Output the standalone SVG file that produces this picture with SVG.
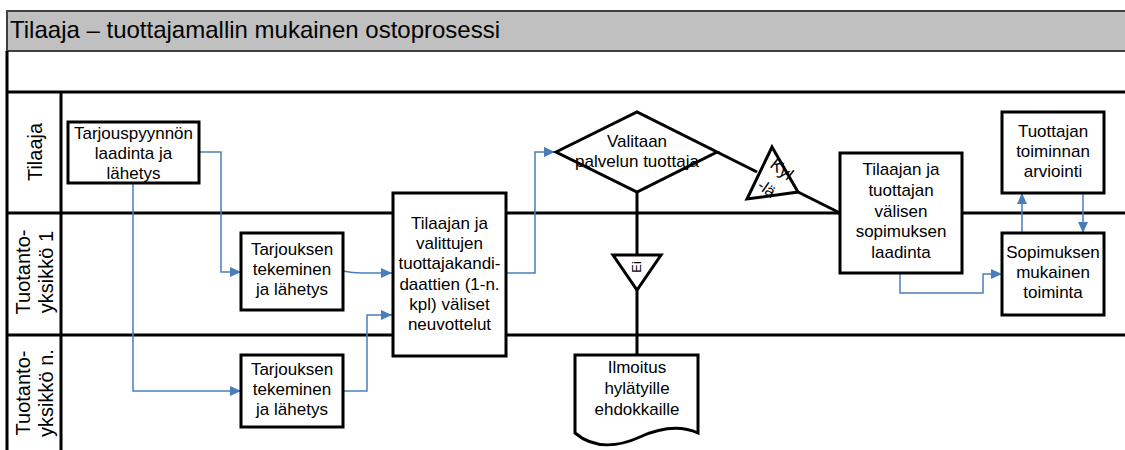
<svg xmlns="http://www.w3.org/2000/svg" width="1125" height="450" viewBox="0 0 1125 450">
<style>
text{font-family:"Liberation Sans",Arial,sans-serif;fill:#000}
.t{font-size:17px;text-anchor:middle}
.lane{font-size:20px;text-anchor:middle}
.box{fill:#fff;stroke:#000;stroke-width:3}
.ln{stroke:#000;stroke-width:3;fill:none}
.bl{stroke:#4a7ebb;stroke-width:1.5;fill:none}
.blk{stroke:#000;stroke-width:3;fill:none}
</style>
<defs>
<marker id="ah" markerUnits="userSpaceOnUse" markerWidth="11" markerHeight="10" refX="11" refY="5" orient="auto">
<path d="M0,0 L11,5 L0,10 z" fill="#4a7ebb"/>
</marker>
</defs>
<rect width="1125" height="450" fill="#fff"/>
<g id="frame">
<rect x="7" y="11" width="1125" height="40" fill="#c0c0c0" stroke="#404040" stroke-width="2"/>
<text x="10" y="38" style="font-size:24px">Tilaaja – tuottajamallin mukainen ostoprosessi</text>
<path class="ln" d="M7,51 V450 M61,92 V450 M6,92 H1125 M7,213 H1125 M7,335 H1125"/>
<text class="lane" transform="rotate(-90 34 152)" x="34" y="160">Tilaaja</text>
<text class="lane" transform="rotate(-90 34 272)" x="34" y="268">Tuotanto-</text>
<text class="lane" transform="rotate(-90 34 272)" x="34" y="291">yksikkö 1</text>
<text class="lane" transform="rotate(-90 34 393)" x="34" y="389">Tuotanto-</text>
<text class="lane" transform="rotate(-90 34 393)" x="34" y="412">yksikkö n.</text>
</g>
<g id="connectors">
<path class="bl" marker-end="url(#ah)" d="M199,152 H221 V272 H241"/>
<path class="bl" marker-end="url(#ah)" d="M133,183 V391 H241"/>
<path class="bl" marker-end="url(#ah)" d="M343,271 Q352,273 362,273 H392"/>
<path class="bl" marker-end="url(#ah)" d="M343,391 H367 V315 H392"/>
<path class="bl" marker-end="url(#ah)" d="M506,273 H535 V152 H555"/>
<path class="bl" marker-end="url(#ah)" d="M900,273 V293 H983 V274 H1002"/>
<path class="bl" marker-end="url(#ah)" d="M1022,233 V193"/>
<path class="bl" marker-end="url(#ah)" d="M1083,193 V233"/>
<path class="blk" d="M637,192 V355"/>
<path class="blk" d="M717,152 L757,172"/>
<path class="blk" d="M798,192 L840,213"/>
</g>
<g id="n1">
<rect class="box" x="68" y="122" width="131" height="61"/>
<text class="t" x="133.5" y="139">Tarjouspyynnön</text>
<text class="t" x="133.5" y="159">laadinta ja</text>
<text class="t" x="133.5" y="179">lähetys</text>
</g>
<g id="n2">
<rect class="box" x="241" y="233" width="102" height="77"/>
<text class="t" x="292" y="255">Tarjouksen</text>
<text class="t" x="292" y="275">tekeminen</text>
<text class="t" x="292" y="295">ja lähetys</text>
</g>
<g id="n3">
<rect class="box" x="241" y="355" width="102" height="72"/>
<text class="t" x="292" y="375">Tarjouksen</text>
<text class="t" x="292" y="395">tekeminen</text>
<text class="t" x="292" y="415">ja lähetys</text>
</g>
<g id="n4">
<rect class="box" x="393" y="193" width="113" height="163"/>
<text class="t" x="449.5" y="229">Tilaajan ja</text>
<text class="t" x="449.5" y="249">valittujen</text>
<text class="t" x="449.5" y="269">tuottajakandi-</text>
<text class="t" x="449.5" y="290">daattien (1-n.</text>
<text class="t" x="449.5" y="310">kpl) väliset</text>
<text class="t" x="449.5" y="330">neuvottelut</text>
</g>
<g id="n5">
<polygon class="box" points="556,152 637,112 717,152 637,192"/>
<text class="t" x="637" y="147">Valitaan</text>
<text class="t" x="637" y="167">palvelun tuottaja</text>
</g>
<g id="n6">
<polygon class="box" points="613,255 661,255 637,290"/>
<text transform="rotate(-90 637 267)" x="637" y="271" style="font-size:13px;text-anchor:middle">Ei</text>
</g>
<g id="n7">
<path class="box" d="M575,355 H698 V433 C680,425 660,428 640,437 C620,446 595,450 575,433 Z"/>
<text class="t" x="637" y="373">Ilmoitus</text>
<text class="t" x="637" y="394">hylätyille</text>
<text class="t" x="637" y="415">ehdokkaille</text>
</g>
<g id="n8">
<polygon class="box" points="772,147 798,192 747,199"/>
<text transform="rotate(38 782 169)" x="782" y="175" style="font-size:17px;text-anchor:middle">Kyl</text>
<text transform="rotate(35 767 188)" x="767" y="194" style="font-size:16px;text-anchor:middle">-lä</text>
</g>
<g id="n9">
<rect class="box" x="840" y="153" width="122" height="120"/>
<text class="t" x="901" y="175">Tilaajan ja</text>
<text class="t" x="901" y="196">tuottajan</text>
<text class="t" x="901" y="217">välisen</text>
<text class="t" x="901" y="237">sopimuksen</text>
<text class="t" x="901" y="258">laadinta</text>
</g>
<g id="n10">
<rect class="box" x="1002" y="112" width="102" height="81"/>
<text class="t" x="1053" y="137">Tuottajan</text>
<text class="t" x="1053" y="157">toiminnan</text>
<text class="t" x="1053" y="177">arviointi</text>
</g>
<g id="n11">
<rect class="box" x="1002" y="233" width="102" height="82"/>
<text class="t" x="1053" y="258">Sopimuksen</text>
<text class="t" x="1053" y="278">mukainen</text>
<text class="t" x="1053" y="298">toiminta</text>
</g>
</svg>
